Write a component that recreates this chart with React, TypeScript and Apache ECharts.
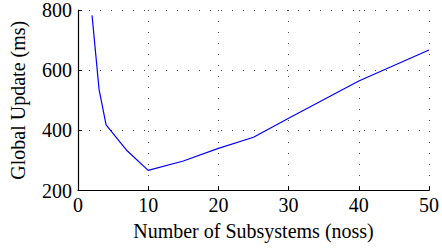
import React, { useEffect, useRef } from "react";
import * as echarts from "echarts";

const noss = [2, 3, 4, 7, 10, 15, 20, 25, 30, 40, 50];
const globalUpdateMs = [782, 536, 418, 332, 267, 298, 340, 377, 440, 564, 667];
const xTicks = [0, 10, 20, 30, 40, 50];
const yTicks = [200, 400, 600, 800];

const FONT = "Times New Roman, Liberation Serif, Tinos, serif";

export default function App() {
  const ref = useRef<HTMLDivElement>(null);
  useEffect(() => {
    if (!ref.current) return;
    const chart = echarts.init(ref.current, null, { renderer: "svg" });
    const gridLine = { show: true, lineStyle: { color: "#444", width: 1, type: [1, 10] as any } };
    chart.setOption({
      animation: false,
      backgroundColor: "#fff",
      textStyle: { fontFamily: FONT },
      grid: { left: 75, right: 10, top: 8, bottom: 59.5, containLabel: false },
      xAxis: {
        type: "value",
        min: xTicks[0],
        max: xTicks[xTicks.length - 1],
        interval: 10,
        name: "Number of Subsystems (noss)",
        nameLocation: "middle",
        nameGap: 30,
        nameTextStyle: { fontFamily: FONT, fontSize: 20, color: "#000" },
        axisLine: { show: true, onZero: false, lineStyle: { color: "#000", width: 1.2 } },
        axisTick: { show: true, inside: true, length: 4, lineStyle: { color: "#000" } },
        axisLabel: { fontFamily: FONT, fontSize: 20, color: "#000", margin: 4 },
        splitLine: gridLine,
      },
      yAxis: {
        type: "value",
        min: yTicks[0],
        max: yTicks[yTicks.length - 1],
        interval: 200,
        name: "Global Update (ms)",
        nameLocation: "middle",
        nameGap: 50,
        nameTextStyle: { fontFamily: FONT, fontSize: 20, color: "#000" },
        axisLine: { show: true, onZero: false, lineStyle: { color: "#000", width: 1.2 } },
        axisTick: { show: true, inside: true, length: 4, lineStyle: { color: "#000" } },
        axisLabel: { fontFamily: FONT, fontSize: 20, color: "#000", margin: 6 },
        splitLine: gridLine,
      },
      series: [
        {
          type: "line",
          data: noss.map((x, i) => [x, globalUpdateMs[i]]),
          showSymbol: false,
          symbol: "none",
          lineStyle: { color: "#0000ff", width: 1.2 },
        },
      ],
    });
    return () => chart.dispose();
  }, []);
  return (
    <div
      ref={ref}
      style={{ position: "fixed", left: 0, top: 0, width: 442, height: 250, background: "#fff" }}
    />
  );
}
